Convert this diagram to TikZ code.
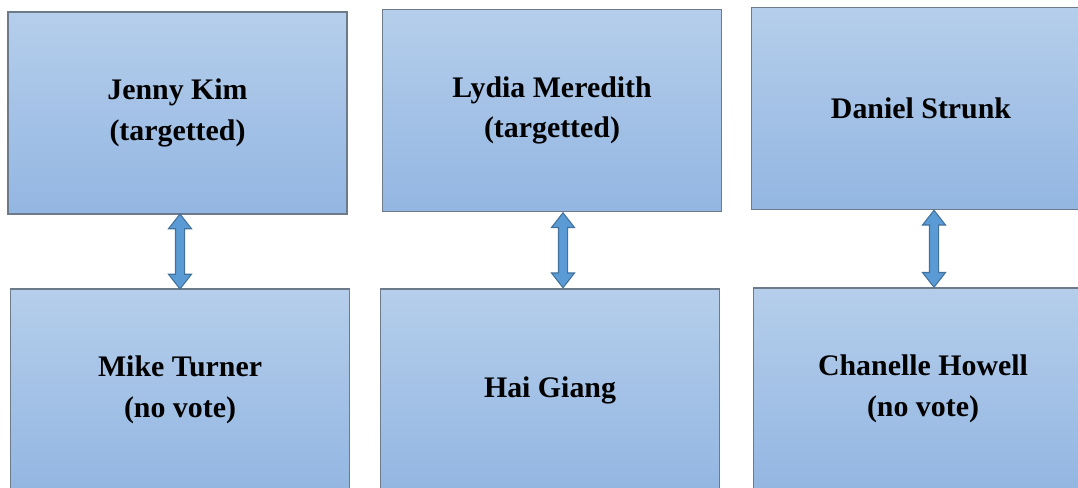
\documentclass[tikz,border=0pt]{standalone}
\usepackage{fontspec}
\setmainfont{Liberation Serif}
\usetikzlibrary{shapes.arrows,calc}
\definecolor{boxtop}{HTML}{B5CEEB}
\definecolor{boxbot}{HTML}{93B6E2}
\definecolor{boxedge}{HTML}{6C7A89}
\definecolor{arrfill}{HTML}{5B9BD5}
\definecolor{arredge}{HTML}{41719C}
\begin{document}
\begin{tikzpicture}[x=0.02cm,y=-0.02cm,
  person/.style={draw=boxedge,line width=0.9pt,top color=boxtop,bottom color=boxbot,
    minimum width=6.78cm,minimum height=4.04cm,inner sep=0pt,align=center,
    font=\fontsize{17}{23}\selectfont\bfseries},
  link/.style={double arrow,draw=arredge,fill=arrfill,line width=0.6pt,rotate=90,
    inner xsep=0pt,inner ysep=0.08cm,double arrow head extend=0.14cm,
    double arrow tip angle=76}]
  \useasboundingbox (0,0) rectangle (1078,487);
  \clip (0,0) rectangle (1078,487);

  % top row: the members
  \node[person] (jenny) at (177.5,113) {Jenny Kim\\(targetted)};
  \node[person] (lydia) at (552,110.5) {Lydia Meredith\\(targetted)};
  \node[person] (daniel) at (921,108.5) {Daniel Strunk};

  % bottom row: their pairs
  \node[person] (mike) at (180,390) {Mike Turner\\(no vote)};
  \node[person] (hai) at (550,390) {Hai Giang};
  \node[person] (chanelle) at (923,389) {Chanelle Howell\\(no vote)};

  % two-way links between the rows
  \path (jenny.south -| mike.north) -- (mike.north)
    node[link,minimum height=1.5cm,midway] {};
  \path ([xshift=0.22cm]lydia.south) -- ([xshift=0.26cm]hai.north)
    node[link,minimum height=1.5cm,midway] {};
  \path ([xshift=0.26cm]daniel.south) -- ([xshift=0.22cm]chanelle.north)
    node[link,minimum height=1.54cm,midway] {};
\end{tikzpicture}
\end{document}
